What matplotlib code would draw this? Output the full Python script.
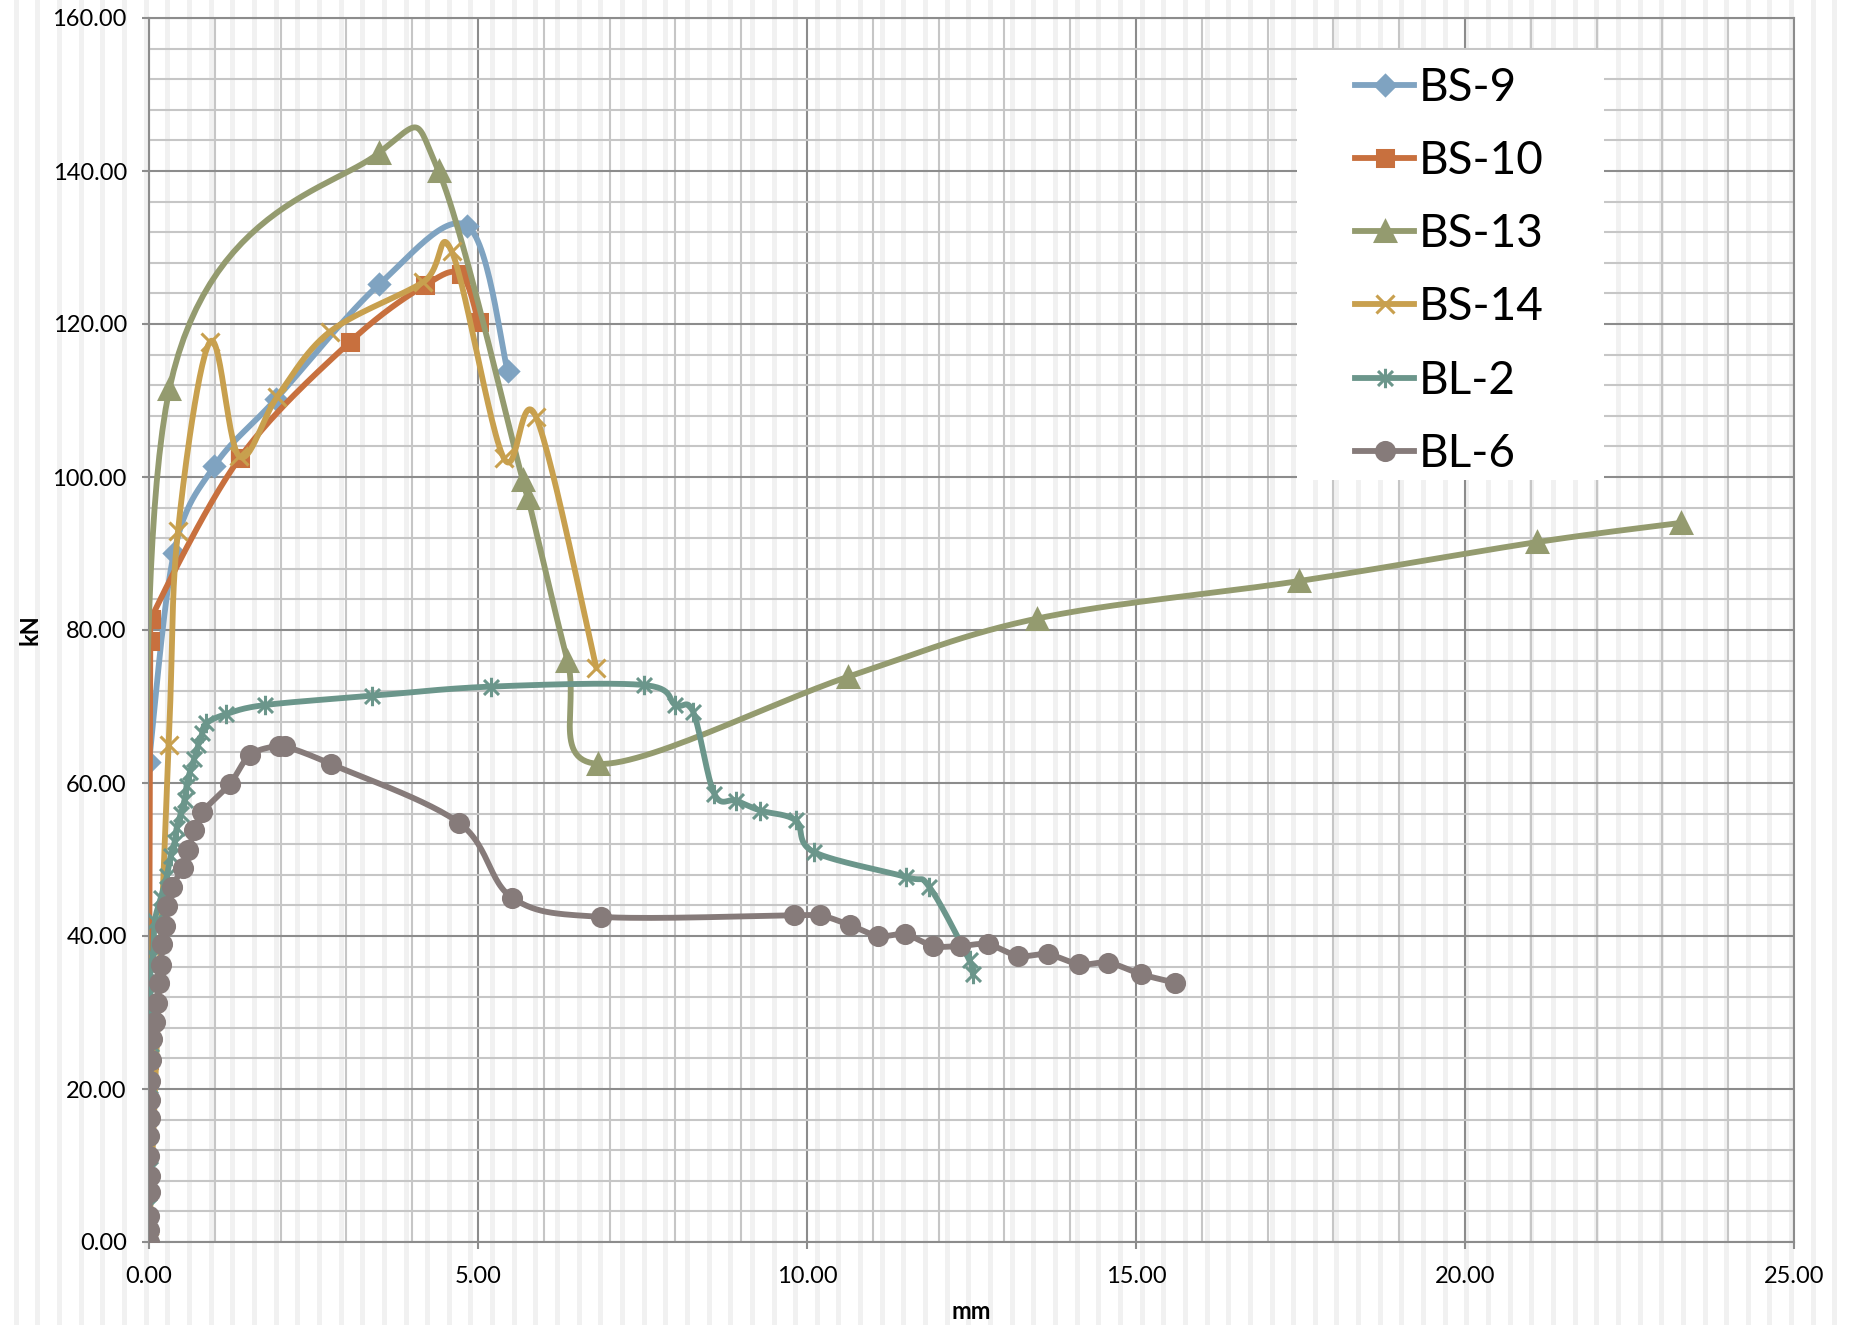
import numpy as np
import matplotlib
matplotlib.use("Agg")
import matplotlib.pyplot as plt
from matplotlib.patches import Rectangle
from matplotlib.lines import Line2D
from matplotlib.path import Path

plt.rcParams['font.family'] = ['Lato', 'DejaVu Sans']

# load-displacement data (mm, kN)
bs9_x = [0.0, 0.38, 0.99, 1.93, 3.5, 4.84, 5.45]
bs9_y = [62.7, 90.1, 101.4, 110.2, 125.2, 132.8, 113.9]

bs10_x = [0.0, 0.02, 0.03, 1.38, 3.06, 4.2, 4.74, 5.01]
bs10_y = [23.8, 78.5, 81.5, 102.5, 117.7, 125.1, 126.5, 120.2]

bs13_x = [0.0, 0.31, 3.5, 4.4, 5.68, 5.76, 6.36, 6.83, 10.63, 13.5, 17.48, 21.1, 23.28]
bs13_y = [0.0, 111.5, 142.4, 140.0, 99.6, 97.3, 76.0, 62.5, 73.9, 81.5, 86.4, 91.5, 94.0]

bs14_x = [0.0, 0.3, 0.44, 0.93, 1.37, 1.95, 2.75, 4.17, 4.6, 5.39, 5.88, 6.8]
bs14_y = [0.0, 65.0, 92.9, 117.7, 102.7, 110.5, 119.0, 125.5, 129.5, 102.5, 107.9, 75.0]

bl2_x = [0.0, 0.0, 0.02, 0.0, 0.02, 0.02, 0.03, 0.03, 0.02, 0.02, 0.06, 0.09, 0.18, 0.27,
         0.33, 0.39, 0.42, 0.48, 0.54, 0.57, 0.62, 0.69, 0.75, 0.81, 0.87, 1.17, 1.77, 3.39,
         5.19, 7.53, 8.0, 8.27, 8.59, 8.92, 9.29, 9.83, 10.1, 11.51, 11.86, 12.47, 12.52]
bl2_y = [0.0, 4.7, 9.5, 12.5, 17.4, 20.4, 25.9, 27.7, 32.5, 35.2, 37.4, 42.0, 45.0, 47.8,
         50.5, 52.3, 54.1, 55.9, 57.8, 59.6, 61.4, 63.2, 65.0, 66.5, 67.8, 69.0, 70.2, 71.4,
         72.6, 72.8, 70.2, 69.3, 58.6, 57.7, 56.4, 55.1, 51.0, 47.7, 46.4, 36.8, 35.0]

bl6_x = [0.0, 0.0, 0.0, 0.02, 0.02, 0.0, 0.0, 0.02, 0.02, 0.02, 0.03, 0.04, 0.09, 0.12,
         0.15, 0.18, 0.2, 0.24, 0.27, 0.35, 0.51, 0.6, 0.69, 0.81, 1.23, 1.54, 1.98, 2.07,
         2.76, 4.71, 5.52, 6.87, 9.8, 10.2, 10.66, 11.08, 11.49, 11.92, 12.33, 12.75, 13.21,
         13.66, 14.14, 14.58, 15.08, 15.59]
bl6_y = [0.0, 1.6, 3.4, 6.5, 8.6, 11.3, 13.8, 16.2, 18.6, 21.0, 23.8, 26.5, 28.8, 31.3,
         33.8, 36.2, 38.9, 41.3, 43.9, 46.4, 48.9, 51.3, 53.8, 56.2, 59.9, 63.7, 64.9, 64.8,
         62.5, 54.8, 45.0, 42.5, 42.7, 42.7, 41.4, 40.0, 40.2, 38.7, 38.7, 38.9, 37.4,
         37.6, 36.3, 36.5, 35.0, 33.9]

labels = ["BS-9", "BS-10", "BS-13", "BS-14", "BL-2", "BL-6"]
colors = ["#7FA3C1", "#C8703E", "#949B6F", "#C8A04E", "#6B968B", "#867B7A"]

# asterisk marker (x plus vertical bar) like the excel "star" marker
star = Path([(-1, -1), (1, 1), (-1, 1), (1, -1), (0, -1.3), (0, 1.3)],
            [Path.MOVETO, Path.LINETO] * 3)
markers = ["D", "s", "^", "x", star, "o"]
msizes = [10, 12, 14, 13, 14, 13]


def smooth(xs, ys, n=30):
    # excel style smoothed line: catmull-rom as cubic bezier pieces
    p = np.column_stack([xs, ys]).astype(float)
    p = np.vstack([p[0], p, p[-1]])
    t = np.linspace(0, 1, n)[:, None]
    out = []
    for i in range(1, len(p) - 2):
        p0, p1, p2, p3 = p[i - 1], p[i], p[i + 1], p[i + 2]
        c1 = p1 + (p2 - p0) / 6
        c2 = p2 - (p3 - p1) / 6
        out.append((1 - t)**3 * p1 + 3 * (1 - t)**2 * t * c1 + 3 * (1 - t) * t**2 * c2 + t**3 * p2)
    return np.vstack(out)


W, H = 1852, 1325
fig = plt.figure(figsize=(W / 100, H / 100), dpi=100)
fig.patch.set_facecolor("white")

# faint vertical stripe background
for sx in np.arange(16.3, W, 21.65):
    fig.add_artist(Rectangle((sx / W - 2.5 / W, 0), 5 / W, 1, transform=fig.transFigure,
                             fc="#f1f1f1", ec="none", zorder=-5))

ax = fig.add_axes([149 / W, 1 - 1242 / H, (1794 - 149) / W, (1242 - 18) / H])
ax.patch.set_alpha(0)

series = [(bs9_x, bs9_y), (bs10_x, bs10_y), (bs13_x, bs13_y),
          (bs14_x, bs14_y), (bl2_x, bl2_y), (bl6_x, bl6_y)]

for k, (xs, ys) in enumerate(series):
    c = smooth(xs, ys)
    ax.plot(c[:, 0], c[:, 1], color=colors[k], lw=4.2, solid_capstyle="round", zorder=3 + k)
    ax.plot(xs, ys, ls="none", marker=markers[k], ms=msizes[k], color=colors[k],
            mfc=colors[k], mec=colors[k], mew=2.2, zorder=3 + k)

ax.set_xlim(0, 25)
ax.set_ylim(0, 160)
ax.set_xticks(np.arange(0, 25.1, 5))
ax.set_xticks(np.arange(0, 25.1, 1), minor=True)
ax.set_yticks(np.arange(0, 160.1, 20))
ax.set_yticks(np.arange(0, 160.1, 4), minor=True)
ax.xaxis.set_major_formatter(matplotlib.ticker.FormatStrFormatter("%.2f"))
ax.yaxis.set_major_formatter(matplotlib.ticker.FormatStrFormatter("%.2f"))

ax.grid(which="major", color="#8c8c8c", lw=1.5, zorder=1)
ax.grid(which="minor", color="#c6c6c6", lw=1.5, zorder=0)
ax.set_axisbelow(True)
for s in ax.spines.values():
    s.set_color("#8c8c8c")
    s.set_linewidth(1.5)

ax.tick_params(which="major", length=5, width=1.5, color="#8c8c8c", labelsize=17)
ax.tick_params(axis="y", pad=11)
ax.tick_params(axis="x", pad=12)
ax.tick_params(which="minor", length=0)

ax.set_xlabel("mm", fontsize=17, fontweight="bold", va="center")
ax.set_ylabel("kN", fontsize=17, fontweight="bold", va="center")
ax.xaxis.set_label_coords(0.5, -0.057)
ax.yaxis.set_label_coords(-0.0723, 0.5)

# legend on a white box
ax.add_patch(Rectangle((0.698, 0.6225), 0.1865, 0.3515, transform=ax.transAxes,
                       fc="white", ec="none", zorder=20))
handles = [Line2D([], [], color=colors[k], lw=4.2, marker=markers[k], ms=msizes[k],
                  mfc=colors[k], mec=colors[k], mew=2.2) for k in range(6)]
leg = ax.legend(handles, labels, loc="upper left", bbox_to_anchor=(0.733, 0.96),
                frameon=False, fontsize=33, handlelength=1.3, handletextpad=0.1,
                labelspacing=0.68, borderpad=0, borderaxespad=0)
leg.set_zorder(21)

fig.savefig("out.png", dpi=100)
